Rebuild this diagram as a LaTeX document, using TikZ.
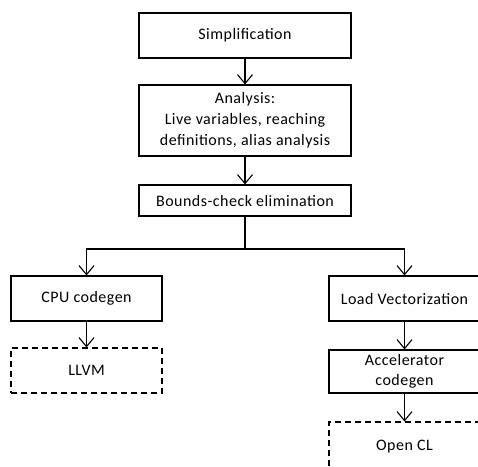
\documentclass[tikz,border=0pt]{standalone}
\usepackage{fontspec}
\setmainfont{Carlito}
\usetikzlibrary{arrows.meta}

\tikzset{
  stage/.style={draw, line width=1.1pt, inner sep=0pt, align=center,
    minimum width=212pt, font=\fontsize{16}{21}\selectfont\addfontfeatures{LetterSpace=3}},
  leaf/.style={stage, minimum width=151pt, minimum height=45pt},
  target/.style={leaf, dash pattern=on 6pt off 4pt},
  flow/.style={line width=1.1pt, -{Straight Barb[length=9pt,width=15pt,line width=1.1pt]}}
}

\begin{document}
\begin{tikzpicture}[x=1pt,y=-1pt]
	\useasboundingbox (0,0) rectangle (478,466);
	\clip (0,0) rectangle (478,466);
		% front end
		\node[stage, minimum height=45pt] (simp) at (245,35.5) {Simplification};
		\node[stage, minimum height=71pt] (ana) at (245,120.5) {Analysis:\\Live variables, reaching\\definitions, alias analysis};
		\node[stage, minimum height=31pt] (bce) at (245,200.5) {Bounds-check elimination};
		\coordinate (split) at (245,249);
		% back ends
		\node[leaf] (cpu) at (86.5,298.5) {CPU codegen};
		\node[target] (llvm) at (86.5,370.5) {LLVM};
		\node[leaf] (vec) at (404.5,298.5) {Load Vectorization};
		\node[leaf, minimum height=43pt, font=\fontsize{16}{20}\selectfont\addfontfeatures{LetterSpace=3}] (acc) at (404.5,371.5) {Accelerator\\codegen};
		\node[target, minimum height=50pt] (ocl) at (404.5,447) {Open CL};
		\draw[flow] (simp) -- (ana);
		\draw[flow] (ana) -- (bce);
		\draw[line width=1.1pt] (bce) -- (split);
		\draw[flow] (split) -| (cpu);
		\draw[flow] (split) -| (vec);
		\draw[flow] (cpu) -- (llvm);
		\draw[flow] (vec) -- (acc);
		\draw[flow] (acc) -- (ocl);
	\end{tikzpicture}
\end{document}
